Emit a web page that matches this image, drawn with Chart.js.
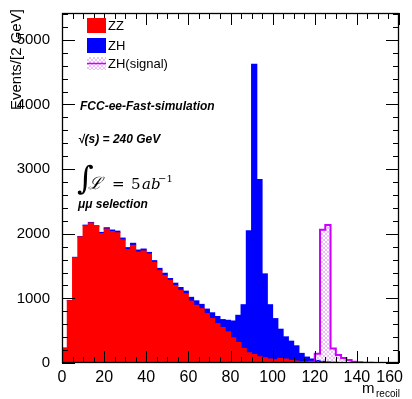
<!DOCTYPE html>
<html>
<head>
<meta charset="utf-8">
<script src="https://cdn.jsdelivr.net/npm/chart.js@4.4.1/dist/chart.umd.min.js"></script>
<style>
  html, body { margin: 0; padding: 0; background: #fff; }
  #wrap { position: relative; width: 412px; height: 399px; }
</style>
</head>
<body>
<div id="wrap"><canvas id="recoilChart" width="412" height="399"></canvas></div>
<script>
// recoil mass histogram, 2.5 GeV bins from 0 to 160
const binWidth = 2.5;
const xMax = 160;
const yMax = 5415;

const binLow = [
  0, 2.5, 5, 7.5, 10, 12.5, 15, 17.5, 20, 22.5,
  25, 27.5, 30, 32.5, 35, 37.5, 40, 42.5, 45, 47.5,
  50, 52.5, 55, 57.5, 60, 62.5, 65, 67.5, 70, 72.5,
  75, 77.5, 80, 82.5, 85, 87.5, 90, 92.5, 95, 97.5,
  100, 102.5, 105, 107.5, 110, 112.5, 115, 117.5, 120, 122.5,
  125, 127.5, 130, 132.5, 135, 137.5, 140, 142.5, 145, 147.5,
  150, 152.5, 155, 157.5
];

const zzEvents = [
  230, 965, 1630, 1950, 2125, 2165, 2110, 2005, 2075, 2035,
  2015, 1905, 1755, 1820, 1715, 1735, 1687, 1558, 1430, 1353,
  1277, 1200, 1123, 1072, 958, 892, 841, 764, 687, 610,
  549, 482, 390, 318, 226, 159, 133, 97, 82, 62,
  50, 72, 62, 41, 31, 20, 14, 10, 8, 6,
  5, 4, 3, 2, 2, 1, 1, 1, 0, 0,
  0, 0, 0, 0
];

const zhEvents = [
  0, 3, 5, 6, 8, 10, 14, 16, 18, 22,
  25, 28, 30, 32, 33, 28, 24, 26, 34, 36,
  30, 35, 45, 40, 58, 70, 66, 70, 90, 110,
  123, 179, 260, 420, 676, 1887, 4491, 2743, 1297, 840,
  637, 451, 343, 297, 235, 129, 78, 52, 32, 20,
  12, 8, 5, 4, 3, 2, 2, 1, 1, 0,
  0, 0, 0, 0
];

const zhSignal = [
  0, 0, 0, 0, 0, 0, 0, 0, 0, 0,
  0, 0, 0, 0, 0, 0, 0, 0, 0, 0,
  0, 0, 0, 0, 0, 0, 0, 0, 0, 0,
  0, 0, 0, 0, 0, 0, 0, 0, 0, 0,
  0, 0, 0, 0, 0, 0, 8, 20, 145, 2060,
  2135, 226, 123, 78, 46, 21, 10, 5, 2, 1,
  0, 0, 0, 0
];

const xTicks = [0, 20, 40, 60, 80, 100, 120, 140, 160];
const yTicks = [0, 1000, 2000, 3000, 4000, 5000];
const xMinorStep = 5;
const yMinorStep = 200;

const FONT = "'Liberation Sans', Arial, Helvetica, sans-serif";
const SIGNAL_COLOR = '#cc00ff';

function hatchPattern(ctx) {
  const c = document.createElement('canvas');
  c.width = 4; c.height = 4;
  const g = c.getContext('2d');
  g.strokeStyle = 'rgba(215, 110, 240, 0.45)';
  g.lineWidth = 1;
  g.beginPath();
  g.moveTo(0, 4); g.lineTo(4, 0);
  g.moveTo(0, 0); g.lineTo(4, 4);
  g.stroke();
  return ctx.createPattern(c, 'repeat');
}

const canvas = document.getElementById('recoilChart');
const ctx = canvas.getContext('2d');
const hatch = hatchPattern(ctx);

const toBars = arr => binLow.map((lo, i) => ({ x: lo + binWidth / 2, y: arr[i] }));
const signalSteps = binLow.map((lo, i) => ({ x: lo, y: zhSignal[i] }));
signalSteps.push({ x: xMax, y: zhSignal[zhSignal.length - 1] });

// ROOT style frame: ticks inside on all four sides
const framePlugin = {
  id: 'frame',
  afterDatasetsDraw(chart) {
    const { ctx, chartArea: a, scales: { x, y } } = chart;
    ctx.save();
    ctx.strokeStyle = '#000';
    ctx.lineWidth = 1;
    ctx.beginPath();
    for (let v = 0; v <= xMax; v += xMinorStep) {
      const px = Math.round(x.getPixelForValue(v)) + 0.5;
      const len = v % 20 === 0 ? 12 : 6;
      ctx.moveTo(px, a.bottom); ctx.lineTo(px, a.bottom - len);
      ctx.moveTo(px, a.top); ctx.lineTo(px, a.top + len);
    }
    for (let v = 0; v <= yMax; v += yMinorStep) {
      const py = Math.round(y.getPixelForValue(v)) + 0.5;
      const len = v % 1000 === 0 ? 13 : 6;
      ctx.moveTo(a.left, py); ctx.lineTo(a.left + len, py);
      ctx.moveTo(a.right, py); ctx.lineTo(a.right - len, py);
    }
    ctx.stroke();
    ctx.lineWidth = 1.3;
    ctx.strokeRect(Math.round(a.left) + 0.5, Math.round(a.top) + 0.5,
      Math.round(a.right - a.left) - 1, Math.round(a.bottom - a.top) - 1);
    ctx.restore();
  },
  afterDraw(chart) {
    const { ctx, scales: { x } } = chart;
    ctx.save();
    ctx.fillStyle = '#000';

    // x tick labels, last one kept inside the canvas
    ctx.font = `16px ${FONT}`;
    ctx.textBaseline = 'alphabetic';
    ctx.textAlign = 'left';
    xTicks.forEach(v => {
      const label = String(v);
      const w = ctx.measureText(label).width;
      let left = x.getPixelForValue(v) - w / 2;
      if (left + w > 403) left = 403 - w;
      ctx.fillText(label, left, 382);
    });

    // axis titles
    ctx.font = `15px ${FONT}`;
    ctx.fillText('m', 362, 393);
    ctx.font = `10px ${FONT}`;
    ctx.fillText('recoil', 376, 397);

    ctx.save();
    ctx.translate(21, 110);
    ctx.rotate(-Math.PI / 2);
    ctx.font = `15px ${FONT}`;
    ctx.fillText('Events/[2 GeV]', 0, 0);
    ctx.restore();

    // legend
    ctx.fillStyle = '#ff0000';
    ctx.fillRect(87, 18, 19, 15);
    ctx.fillStyle = '#0000ff';
    ctx.fillRect(87, 38, 19, 15);
    ctx.fillStyle = hatch;
    ctx.fillRect(87, 57, 19, 13);
    ctx.strokeStyle = SIGNAL_COLOR;
    ctx.lineWidth = 1.5;
    ctx.beginPath();
    ctx.moveTo(87, 63.5); ctx.lineTo(106, 63.5);
    ctx.stroke();

    ctx.fillStyle = '#000';
    ctx.font = `13px ${FONT}`;
    ctx.fillText('ZZ', 108, 30);
    ctx.fillText('ZH', 108, 50);
    ctx.fillText('ZH(signal)', 108, 68);

    // labels
    ctx.font = `italic bold 12px ${FONT}`;
    ctx.fillText('FCC-ee-Fast-simulation', 80, 110);
    ctx.fillText('\u221A(s) = 240 GeV', 78, 143);
    ctx.fillText('\u03BC\u03BC selection', 78, 208);

    ctx.font = `32px 'DejaVu Serif', serif`;
    ctx.fillText('\u222B', 77, 189);
    ctx.font = `italic 17px 'DejaVu Serif', serif`;
    ctx.fillText('\u2112', 88, 189);
    ctx.font = `15px 'DejaVu Serif', serif`;
    ctx.fillText('=', 112, 189);
    ctx.fillText('5', 131, 189);
    ctx.font = `italic 15px 'DejaVu Serif', serif`;
    ctx.fillText('ab', 142, 189);
    ctx.font = `10px 'DejaVu Serif', serif`;
    ctx.fillText('\u22121', 158, 182);

    ctx.restore();
  }
};

new Chart(ctx, {
  type: 'bar',
  data: {
    datasets: [
      {
        type: 'line',
        label: 'ZH(signal)',
        data: signalSteps,
        stack: 'signal',
        stepped: true,
        borderColor: SIGNAL_COLOR,
        borderWidth: 2,
        backgroundColor: hatch,
        fill: 'origin',
        pointRadius: 0,
        order: 0
      },
      {
        label: 'ZZ',
        data: toBars(zzEvents),
        backgroundColor: '#ff0000',
        barPercentage: 1,
        categoryPercentage: 1,
        inflateAmount: 0.5,
        order: 1
      },
      {
        label: 'ZH',
        data: toBars(zhEvents),
        backgroundColor: '#0000ff',
        barPercentage: 1,
        categoryPercentage: 1,
        inflateAmount: 0.5,
        order: 2
      }
    ]
  },
  options: {
    responsive: false,
    animation: false,
    devicePixelRatio: 1,
    layout: { padding: { top: 11, right: 13, left: 0, bottom: 0 } },
    plugins: { legend: { display: false }, tooltip: { enabled: false } },
    scales: {
      x: {
        type: 'linear',
        min: 0,
        max: xMax,
        offset: false,
        stacked: true,
        grid: { display: false },
        border: { display: false },
        ticks: { display: false },
        afterFit: s => { s.height = 36; }
      },
      y: {
        min: 0,
        max: yMax,
        stacked: true,
        grid: { display: false },
        border: { display: false },
        ticks: {
          color: '#000',
          padding: 4,
          font: { family: FONT, size: 15 },
          callback: v => String(v)
        },
        afterBuildTicks: s => { s.ticks = yTicks.map(v => ({ value: v })); },
        afterFit: s => { s.width = 62; }
      }
    }
  },
  plugins: [framePlugin]
});
</script>
</body>
</html>
